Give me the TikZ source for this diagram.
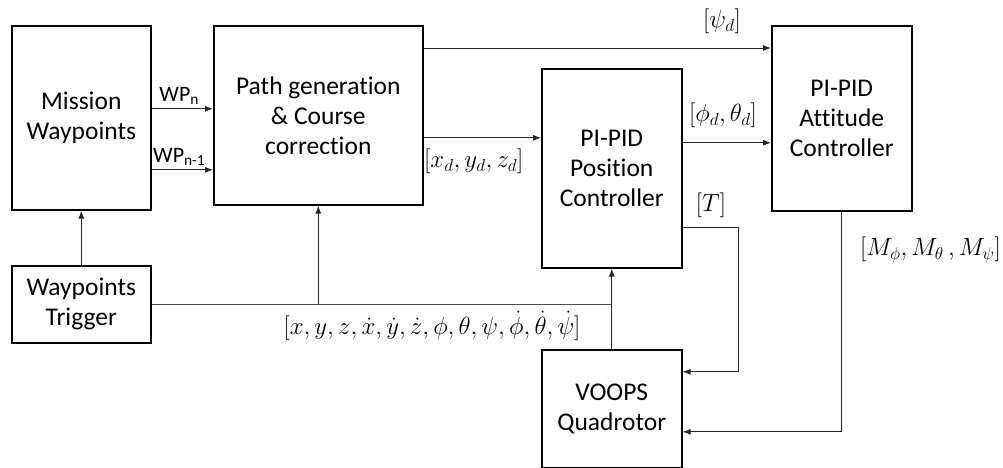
\documentclass[tikz,border=0pt]{standalone}
\usepackage{fontspec}
\setmainfont{Carlito}[Ligatures=NoCommon]
\usetikzlibrary{arrows.meta,positioning,calc}
\DeclareMathSizes{25}{25}{19}{15}
\DeclareMathSizes{23}{23}{17.5}{14}

\begin{document}
\begin{tikzpicture}[
    x=1pt, y=-1pt,
    font=\fontsize{25.5}{30}\selectfont,
    block/.style={
        rectangle,
        draw=black,
        line width=1.6pt,
        align=center,
        anchor=north west,
        inner sep=0pt,
        fill=white
    },
    sig/.style={
        font=\fontsize{25}{28}\selectfont,
        inner sep=1pt
    },
    smallsig/.style={
        font=\fontsize{23}{26}\selectfont,
        inner sep=1pt
    },
    wplabel/.style={
        font=\fontsize{22}{24}\selectfont,
        inner sep=1pt
    },
    arrow/.style={-{Latex[length=8pt,width=6pt]}, line width=0.9pt, draw=black!85},
    line/.style={line width=0.9pt, draw=black!70}
]

\useasboundingbox (0,0) rectangle (1003,468);

% =========================================================
% BLOQUES
% =========================================================

\node[block, minimum width=139pt, minimum height=184pt] (mission) at (11,25)
{Mission\\Waypoints};

\node[block, minimum width=209pt, minimum height=179pt] (pathgen) at (213,25)
{Path generation\\\& Course\\correction};

\node[block, minimum width=140pt, minimum height=199pt] (position) at (541,68)
{PI-PID\\Position\\Controller};

\node[block, minimum width=140pt, minimum height=185pt] (attitude) at (771,25)
{PI-PID\\Attitude\\Controller};

\node[block, minimum width=139pt, minimum height=77pt] (trigger) at (11,265)
{Waypoints\\Trigger};

\node[block, minimum width=140pt, minimum height=118pt] (quad) at (541,349)
{VOOPS\\Quadrotor};

% =========================================================
% FLECHAS
% =========================================================

% waypoints hacia el generador de trayectoria
\draw[arrow] ([yshift=9pt]mission.east) coordinate (wpn)
    -- (wpn -| pathgen.west);
\draw[arrow] ([yshift=-52pt]mission.east) coordinate (wpprev)
    -- (wpprev -| pathgen.west);
\node[wplabel, anchor=south] at ($(wpn)!0.45!(wpn -| pathgen.west)+(0,-3)$)
{WP\textsubscript{n}};
\node[wplabel, anchor=south] at ($(wpprev)!0.45!(wpprev -| pathgen.west)+(0,-3)$)
{WP\textsubscript{n-1}};

\draw[arrow] (trigger.north) -- (mission.south);

% referencias
\draw[arrow] ([yshift=-23pt]pathgen.north east) coordinate (psis)
    -- (psis -| attitude.west);
\node[sig, anchor=south] at (722,35) {$[\psi_d]$};

\draw[arrow] ([yshift=-22.5pt]pathgen.east) coordinate (xds)
    -- (xds -| position.west);
\node[sig, anchor=north west] at (423,148) {$[x_d,y_d,z_d]$};

\draw[arrow] ([yshift=25.5pt]position.east) coordinate (phis)
    -- (phis -| attitude.west);
\node[sig, anchor=south] at (723,129) {$[\phi_d,\theta_d]$};

% empuje y momentos hacia el cuadrotor
\draw[arrow] ([yshift=-59.5pt]position.east) -- ++(56,0) coordinate (tcorner)
    |- ([yshift=37pt]quad.east);
\node[sig, anchor=south] at (711,219) {$[T]$};

\draw[arrow] (attitude.south) |- ([yshift=-23pt]quad.east);
\node[smallsig, anchor=east] at (1002,250) {$[M_\phi,M_\theta\,,M_\psi]$};

% realimentacion de estados
\draw[line] (trigger.east) -- (trigger.east -| quad.north) coordinate (busend);
\draw[arrow] (quad.north) -- (position.south);
\draw[arrow] (trigger.east -| pathgen.south) coordinate (tap) -- (pathgen.south);
\node[smallsig, anchor=north] at (432,310)
{$[x,y,z,\dot{x},\dot{y},\dot{z},\phi,\theta,\psi,\dot{\phi},\dot{\theta},\dot{\psi}]$};

\end{tikzpicture}
\end{document}
